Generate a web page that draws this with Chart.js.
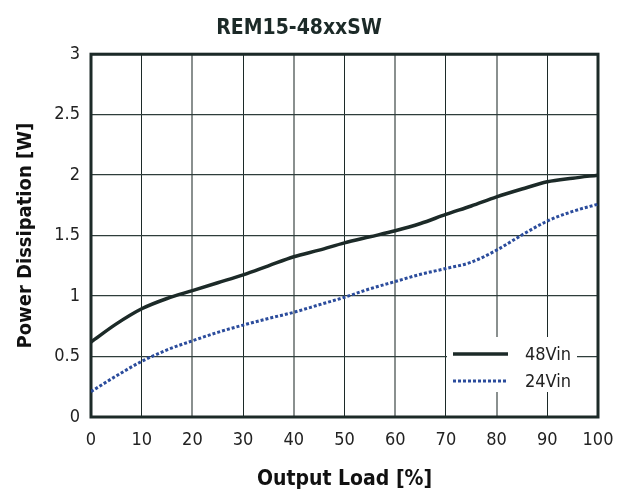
<!DOCTYPE html>
<html>
<head>
<meta charset="utf-8">
<script src="https://cdn.jsdelivr.net/npm/chart.js@4.4.1/dist/chart.umd.min.js"></script>
<style>
  html, body { margin: 0; padding: 0; background: #fff; }
  #wrap { width: 628px; height: 493px; }
</style>
</head>
<body>
<div id="wrap"><canvas id="c"></canvas></div>
<script>
// ─── DATA ───
const loads = [0, 5, 10, 15, 20, 25, 30, 35, 40, 45, 50, 55, 60, 65, 70, 75, 80, 85, 90, 95, 100];
const vin48 = [0.62, 0.77, 0.895, 0.98, 1.045, 1.11, 1.175, 1.25, 1.325, 1.38, 1.44, 1.49, 1.54, 1.60, 1.675, 1.745, 1.82, 1.885, 1.945, 1.975, 2.0];
const vin24 = [0.21, 0.34, 0.46, 0.555, 0.63, 0.70, 0.76, 0.815, 0.866, 0.928, 0.99, 1.06, 1.12, 1.18, 1.228, 1.28, 1.38, 1.505, 1.62, 1.70, 1.76];
const xTicks = [0, 10, 20, 30, 40, 50, 60, 70, 80, 90, 100];
const yTicks = [0, 0.5, 1, 1.5, 2, 2.5, 3];

const FONT = "'Liberation Sans Narrow', 'Arial Narrow', 'DejaVu Sans Condensed', 'Roboto', sans-serif";
const DARK = '#1c2a28';

// Frame + in-plot legend (white patch over the grid, bottom right)
const framePlugin = {
    id: 'frame',
    beforeDatasetsDraw(chart) {
        const { ctx, chartArea: a } = chart;
        ctx.save();
        ctx.lineWidth = 3;
        ctx.strokeStyle = DARK;
        ctx.strokeRect(a.left, a.top, a.right - a.left, a.bottom - a.top);

        // legend
        const x0 = a.right - 151, y0 = a.bottom - 80;
        ctx.fillStyle = '#fff';
        ctx.fillRect(x0, y0, 130, 55);
        const items = chart.data.datasets;
        items.forEach((ds, i) => {
            const y = y0 + 17 + i * 27;
            ctx.beginPath();
            ctx.lineWidth = ds.borderWidth;
            ctx.strokeStyle = ds.borderColor;
            ctx.setLineDash(ds.borderDash || []);
            ctx.moveTo(x0 + 6, y);
            ctx.lineTo(x0 + 61, y);
            ctx.stroke();
            ctx.setLineDash([]);
            ctx.fillStyle = '#222';
            ctx.font = '18px ' + FONT;
            ctx.textBaseline = 'middle';
            ctx.fillText(ds.label, x0 + 78, y + 1);
        });
        ctx.restore();
    }
};

const ctx = document.getElementById('c').getContext('2d');
new Chart(ctx, {
    type: 'line',
    data: {
        datasets: [{
            label: '48Vin',
            data: loads.map((x, i) => ({ x: x, y: vin48[i] })),
            borderColor: DARK,
            borderWidth: 3.5,
            pointRadius: 0,
            cubicInterpolationMode: 'monotone',
            fill: false
        }, {
            label: '24Vin',
            data: loads.map((x, i) => ({ x: x, y: vin24[i] })),
            borderColor: '#2b4c9c',
            borderWidth: 3,
            borderDash: [3, 2],
            pointRadius: 0,
            cubicInterpolationMode: 'monotone',
            fill: false
        }]
    },
    options: {
        responsive: true,
        maintainAspectRatio: false,
        animation: false,
        layout: { padding: { left: 0, right: 30, top: 0, bottom: 0 } },
        plugins: {
            legend: { display: false },
            tooltip: { enabled: false },
            title: {
                display: true,
                text: 'REM15-48xxSW',
                color: DARK,
                font: { family: FONT, size: 21, weight: 'bold' },
                padding: { top: 16, bottom: 13 }
            }
        },
        scales: {
            x: {
                type: 'linear',
                min: 0, max: 100,
                afterBuildTicks: s => { s.ticks = xTicks.map(v => ({ value: v })); },
                afterFit: s => { s.height = 76; },
                border: { display: false },
                grid: {
                    drawTicks: false,
                    lineWidth: c => (c.tick && c.tick.value % 20 === 0) ? 2 : 1,
                    color: c => (c.tick && c.tick.value % 20 === 0) ? '#8a908f' : DARK
                },
                ticks: {
                    padding: 13,
                    color: '#222',
                    font: { family: FONT, size: 18 },
                    callback: v => String(v)
                },
                title: {
                    display: true,
                    text: 'Output Load [%]',
                    color: '#111',
                    font: { family: FONT, size: 21, weight: 'bold' },
                    padding: { top: 0, bottom: 1 }
                }
            },
            y: {
                min: 0, max: 3,
                afterBuildTicks: s => { s.ticks = yTicks.map(v => ({ value: v })); },
                afterFit: s => { s.width = 91; },
                border: { display: false },
                grid: {
                    drawTicks: false,
                    lineWidth: 1.3,
                    color: '#2e3d3b'
                },
                ticks: {
                    padding: 11,
                    color: '#222',
                    font: { family: FONT, size: 18 },
                    callback: v => String(v)
                },
                title: {
                    display: true,
                    text: 'Power Dissipation [W]',
                    color: '#111',
                    font: { family: FONT, size: 20, weight: 'bold' },
                    padding: { top: 14, bottom: 0 }
                }
            }
        }
    },
    plugins: [framePlugin]
});
</script>
</body>
</html>
